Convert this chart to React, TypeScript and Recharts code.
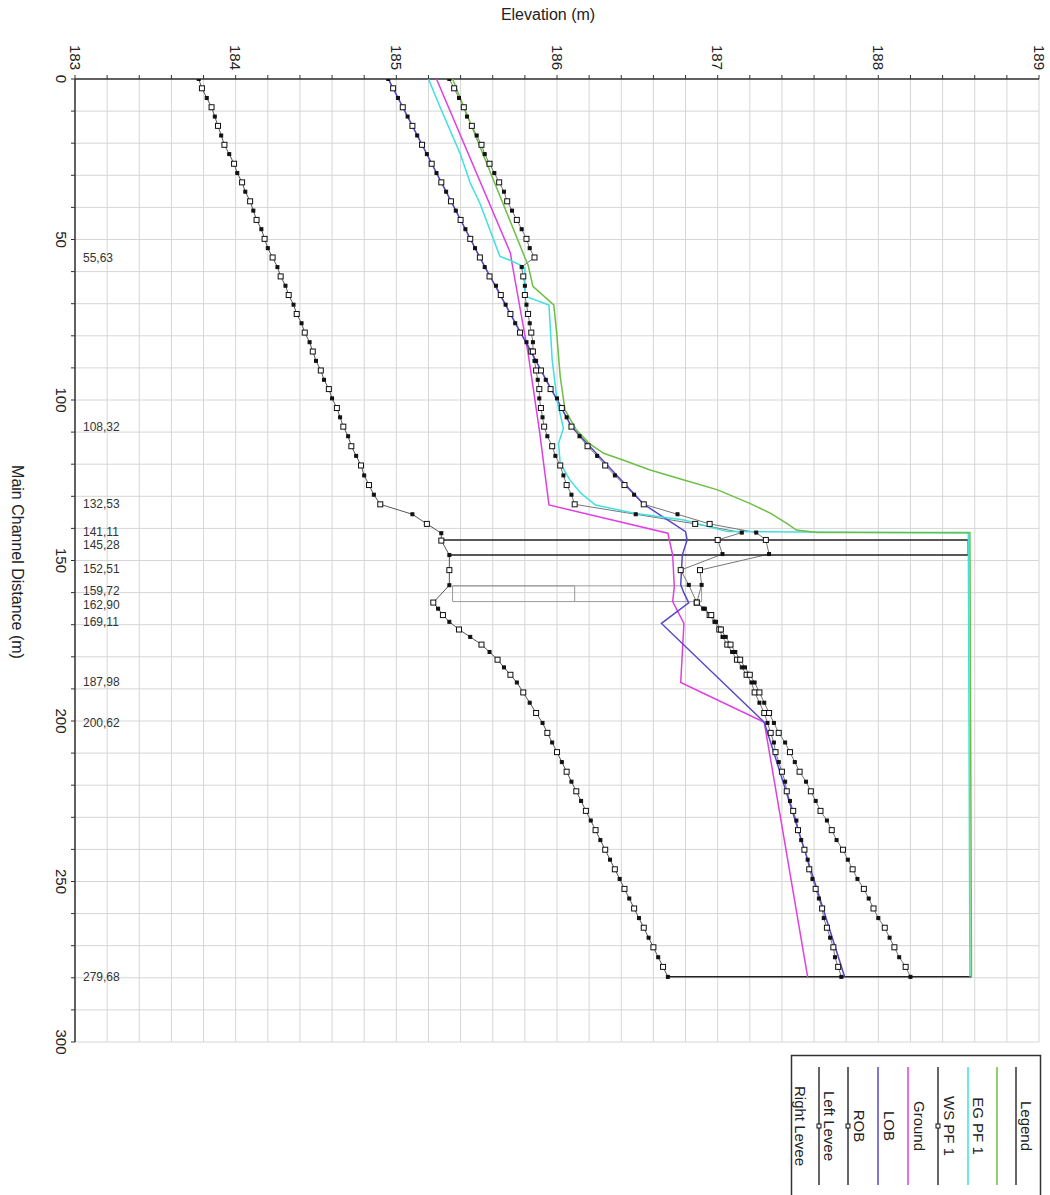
import { CartesianGrid, Scatter, ScatterChart, XAxis, YAxis } from 'recharts';

const FONT = '"Liberation Sans", Arial, sans-serif';

// axis ticks: elevation every 0.2 m, distance every 10 m
const elevTicks = [
  183, 183.2, 183.4, 183.6, 183.8, 184, 184.2, 184.4, 184.6, 184.8, 185, 185.2, 185.4, 185.6, 185.8, 186, 186.2,
  186.4, 186.6, 186.8, 187, 187.2, 187.4, 187.6, 187.8, 188, 188.2, 188.4, 188.6, 188.8, 189,
];
const distTicks = [
  0, 10, 20, 30, 40, 50, 60, 70, 80, 90, 100, 110, 120, 130, 140, 150, 160, 170, 180, 190, 200, 210, 220, 230, 240,
  250, 260, 270, 280, 290, 300,
];

// river stations printed along the distance axis
const stationDist = [55.63, 108.32, 132.53, 141.11, 145.28, 152.51, 159.72, 162.9, 169.11, 187.98, 200.62, 279.68];
const stationText = ['55,63', '108,32', '132,53', '141,11', '145,28', '152,51', '159,72', '162,90', '169,11', '187,98', '200,62', '279,68'];

// interpolated sections (markers) upstream of the bridge and downstream of the culvert
const upperDist = [
  0, 2.9, 5.9, 8.8, 11.7, 14.6, 17.6, 20.5, 23.4, 26.4, 29.3, 32.2, 35.1, 38.1, 41.0, 43.9, 46.8, 49.8, 52.7, 55.6,
  58.6, 61.5, 64.4, 67.3, 70.3, 73.2, 76.1, 79.0, 82.0, 84.9, 87.8, 90.8, 93.7, 96.6, 99.5, 102.5, 105.4, 108.3,
  111.3, 114.4, 117.4, 120.4, 123.5, 126.5, 129.5, 132.5,
];
const lowerDist = [
  165.0, 167.0, 169.1, 171.5, 173.8, 176.2, 178.5, 180.9, 183.3, 185.6, 188.0, 191.1, 194.3, 197.5, 200.6, 203.7,
  206.7, 209.7, 212.8, 215.8, 218.9, 221.9, 224.9, 228.0, 231.0, 234.0, 237.1, 240.1, 243.2, 246.2, 249.2, 252.3,
  255.3, 258.4, 261.4, 264.4, 267.5, 270.5, 273.6, 276.6, 279.7,
];

// Ground
const groundUpper = [
  183.77, 183.79, 183.82, 183.85, 183.87, 183.89, 183.91, 183.93, 183.96, 183.99, 184.01, 184.04, 184.06, 184.09,
  184.11, 184.13, 184.16, 184.18, 184.2, 184.23, 184.26, 184.28, 184.31, 184.33, 184.36, 184.38, 184.41, 184.43,
  184.46, 184.48, 184.5, 184.53, 184.55, 184.58, 184.6, 184.63, 184.65, 184.67, 184.7, 184.72, 184.75, 184.78,
  184.8, 184.83, 184.86, 184.9,
];
const groundMidDist = [135.6, 138.6, 141.5, 143.8, 148.3, 153.0, 157.7, 163.1];
const groundMid = [185.1, 185.19, 185.28, 185.28, 185.33, 185.33, 185.33, 185.23];
const groundLower = [
  185.26, 185.29, 185.33, 185.39, 185.46, 185.53, 185.58, 185.63, 185.67, 185.71, 185.75, 185.79, 185.83, 185.87,
  185.91, 185.94, 185.97, 186.0, 186.03, 186.06, 186.09, 186.12, 186.15, 186.18, 186.21, 186.24, 186.27, 186.3,
  186.33, 186.36, 186.39, 186.42, 186.45, 186.48, 186.51, 186.54, 186.57, 186.6, 186.63, 186.66, 186.69,
];

// Left Levee
const leftUpper = [
  184.95, 184.98, 185.01, 185.04, 185.07, 185.1, 185.13, 185.16, 185.19, 185.22, 185.25, 185.28, 185.31, 185.34,
  185.37, 185.4, 185.43, 185.46, 185.49, 185.52, 185.55, 185.58, 185.62, 185.65, 185.68, 185.71, 185.74, 185.77,
  185.81, 185.84, 185.87, 185.9, 185.93, 185.96, 186.0, 186.03, 186.06, 186.09, 186.14, 186.19, 186.25, 186.3,
  186.36, 186.42, 186.48, 186.54,
];
const leftMidDist = [135.6, 138.6, 141.3, 143.6, 148.0, 153.0, 157.6, 163.1];
const leftMid = [186.75, 186.95, 187.24, 187.3, 187.32, 186.89, 186.9, 186.87];
const leftLower = [
  186.91, 186.95, 186.98, 187.01, 187.03, 187.06, 187.09, 187.12, 187.15, 187.18, 187.21, 187.23, 187.26, 187.29,
  187.31, 187.33, 187.35, 187.36, 187.38, 187.4, 187.42, 187.43, 187.45, 187.47, 187.49, 187.5, 187.52, 187.54,
  187.56, 187.57, 187.59, 187.61, 187.63, 187.65, 187.66, 187.68, 187.7, 187.72, 187.73, 187.75, 187.77,
];

// Right Levee
const rightUpper = [
  185.33, 185.36, 185.39, 185.42, 185.44, 185.47, 185.5, 185.53, 185.55, 185.58, 185.61, 185.64, 185.67, 185.69,
  185.72, 185.75, 185.78, 185.81, 185.83, 185.86, 185.78, 185.79, 185.8, 185.8, 185.81, 185.82, 185.83, 185.84,
  185.85, 185.85, 185.86, 185.87, 185.88, 185.89, 185.89, 185.9, 185.91, 185.92, 185.94, 185.97, 185.99, 186.02,
  186.04, 186.06, 186.09, 186.11,
];
const rightMidDist = [135.6, 138.6, 141.3, 143.6, 148.0, 153.0, 157.6, 163.1];
const rightMid = [186.49, 186.86, 187.15, 187.0, 187.03, 186.77, 186.82, 186.87];
const rightLower = [
  186.92, 186.96, 186.99, 187.02, 187.05, 187.08, 187.11, 187.14, 187.17, 187.2, 187.23, 187.26, 187.29, 187.32,
  187.35, 187.38, 187.42, 187.45, 187.48, 187.51, 187.55, 187.58, 187.61, 187.64, 187.68, 187.71, 187.74, 187.78,
  187.81, 187.84, 187.87, 187.91, 187.94, 187.97, 188.0, 188.04, 188.07, 188.1, 188.13, 188.17, 188.2,
];

// EG PF 1
const egDist = [0, 55.6, 57.9, 64.6, 70.4, 80.2, 92.7, 103.1, 109.3, 113.5, 116.6, 118.7, 121.8, 124.9, 128.0, 132.2, 135.3, 138.4, 140.5, 141.3, 141.3, 279.7];
const egElev = [185.35, 185.8, 185.82, 185.85, 185.98, 186.0, 186.02, 186.05, 186.12, 186.2, 186.29, 186.41, 186.58, 186.79, 187.0, 187.2, 187.33, 187.43, 187.49, 187.62, 188.57, 188.58];

// WS PF 1
const wsDist = [0, 8.5, 23.6, 32.4, 38.7, 55.3, 56.3, 57.9, 58.9, 66.7, 67.8, 70.4, 87.5, 100, 108.8, 113.5, 119.7, 124.9, 129.1, 132.7, 135.3, 137.4, 141.0, 141.4, 279.7];
const wsElev = [185.2, 185.27, 185.4, 185.46, 185.52, 185.645, 185.7, 185.77, 185.8, 185.8, 185.81, 185.95, 185.97, 186.0, 186.04, 186.01, 186.02, 186.08, 186.15, 186.24, 186.48, 186.79, 187.06, 188.56, 188.57];

// LOB
const lobDist = [0, 54.2, 57.4, 85.4, 109.3, 132.7, 141.5, 148.3, 158.2, 162.8, 169.6, 188.0, 200.4, 279.7];
const lobElev = [185.25, 185.71, 185.72, 185.82, 185.89, 185.95, 186.69, 186.72, 186.73, 186.72, 186.79, 186.77, 187.29, 187.56];

// ROB
const robDist = [0, 55.6, 108.3, 132.5, 141.0, 143.6, 148.3, 157.6, 160.1, 163.2, 169.6, 200.4, 279.7];
const robElev = [184.95, 185.52, 186.09, 186.54, 186.8, 186.81, 186.78, 186.77, 186.79, 186.82, 186.65, 187.29, 187.79];

// bridge deck, culvert and last section outline
const deckDist = [143.6, 143.6, 148.3, 148.3];
const deckElev = [185.28, 188.56, 188.56, 185.33];
const culvertDist = [157.9, 157.9, 162.8, 162.8, 157.9, 157.9, 162.8];
const culvertElev = [185.35, 186.9, 186.9, 185.35, 185.35, 186.11, 186.11];
const endDist = [279.7, 279.7];
const endElev = [186.69, 188.58];

type Pt = { e: number; d: number; i: number };

const toPts = (dist: number[], elev: number[]): Pt[] => dist.map((d, i) => ({ d, e: elev[i], i }));

const groundPts = toPts([...upperDist, ...groundMidDist, ...lowerDist], [...groundUpper, ...groundMid, ...groundLower]);
const leftPts = toPts([...upperDist, ...leftMidDist, ...lowerDist], [...leftUpper, ...leftMid, ...leftLower]);
const rightPts = toPts([...upperDist, ...rightMidDist, ...lowerDist], [...rightUpper, ...rightMid, ...rightLower]);
const stationPts = stationDist.map((d, i) => ({ d, e: 183, t: stationText[i] }));

const LEGEND = [
  { name: 'EG PF 1', color: '#6cbf45', marker: false },
  { name: 'WS PF 1', color: '#3fe0e0', marker: false },
  { name: 'Ground', color: '#333', marker: true },
  { name: 'LOB', color: '#e040e0', marker: false },
  { name: 'ROB', color: '#5548c8', marker: false },
  { name: 'Left Levee', color: '#333', marker: true },
  { name: 'Right Levee', color: '#333', marker: true },
];

const noDot = () => <g />;

const squareDot = (p: any) => {
  const filled = p.payload.i % 2 === 0;
  const s = filled ? 3 : 5;
  return (
    <rect
      x={p.cx - s / 2}
      y={p.cy - s / 2}
      width={s}
      height={s}
      fill={filled ? '#111' : '#fff'}
      stroke="#111"
      strokeWidth={1}
    />
  );
};

// the two closest station labels are pushed apart a little, as in the source plot
const stationLabel = (p: any) => {
  const nudge = p.payload.t === '162,90' ? 3 : p.payload.t === '159,72' ? -1 : 0;
  return (
    <text x={p.cx + 8} y={p.cy + nudge} dominantBaseline="central" fontSize={12} fill="#333" fontFamily={FONT}>
      {p.payload.t}
    </text>
  );
};

const ElevTick = (p: any) => {
  const v = p.payload.value;
  if (Math.abs(v - Math.round(v)) > 0.001) return <g />;
  return (
    <text
      x={p.x}
      y={p.y}
      transform={`rotate(90 ${p.x} ${p.y})`}
      textAnchor="end"
      dominantBaseline="central"
      fontSize={15}
      fill="#222"
      fontFamily={FONT}
    >
      {Math.round(v)}
    </text>
  );
};

const DistTick = (p: any) => {
  const v = p.payload.value;
  if (v % 50 !== 0) return <g />;
  return (
    <text
      x={p.x}
      y={p.y}
      transform={`rotate(90 ${p.x} ${p.y})`}
      textAnchor="middle"
      dominantBaseline="central"
      fontSize={15}
      fill="#222"
      fontFamily={FONT}
    >
      {v}
    </text>
  );
};

function LegendBox() {
  const lineX = [206, 177, 147, 117, 87, 57, 28];
  return (
    <g transform="translate(791 1055)">
      <rect x={0.5} y={0.5} width={249} height={150} fill="#fff" stroke="#333" strokeWidth={1.5} />
      <line x1={225} y1={12} x2={225} y2={130} stroke="#333" strokeWidth={1.5} />
      <text x={235} y={71} transform="rotate(90 235 71)" textAnchor="middle" dominantBaseline="central" fontSize={15} fill="#222" fontFamily={FONT}>
        Legend
      </text>
      {LEGEND.map((item, idx) => {
        const x = lineX[idx];
        return (
          <g key={item.name}>
            <line x1={x} y1={12} x2={x} y2={130} stroke={item.color} strokeWidth={1.5} />
            {item.marker && <rect x={x - 2} y={69} width={4} height={4} fill="#fff" stroke="#111" />}
            <text
              x={x - 19}
              y={71}
              transform={`rotate(90 ${x - 19} 71)`}
              textAnchor="middle"
              dominantBaseline="central"
              fontSize={15}
              fill="#222"
              fontFamily={FONT}
            >
              {item.name}
            </text>
          </g>
        );
      })}
    </g>
  );
}

export default function App() {
  return (
    <div style={{ position: 'absolute', left: 0, top: 0, width: 1050, height: 1195, background: '#fff' }}>
      <ScatterChart width={1050} height={1195} margin={{ top: 39, right: 11, bottom: 153, left: 30 }}>
        <CartesianGrid stroke="#d6d6d6" strokeWidth={1} />
        <XAxis
          type="number"
          dataKey="e"
          orientation="top"
          domain={[183, 189]}
          ticks={elevTicks}
          interval={0}
          allowDataOverflow
          height={40}
          tickSize={4}
          tickMargin={5}
          tick={ElevTick}
          axisLine={{ stroke: '#333', strokeWidth: 1.5 }}
          tickLine={{ stroke: '#333' }}
        />
        <YAxis
          type="number"
          dataKey="d"
          domain={[0, 300]}
          reversed
          ticks={distTicks}
          interval={0}
          allowDataOverflow
          width={45}
          tickSize={4}
          tickMargin={10}
          tick={DistTick}
          axisLine={{ stroke: '#333', strokeWidth: 1.5 }}
          tickLine={{ stroke: '#333' }}
        />

        <Scatter name="Ground" data={groundPts} line={{ stroke: '#555', strokeWidth: 1 }} shape={noDot} legendType="none" isAnimationActive={false} />
        <Scatter name="Left Levee" data={leftPts} line={{ stroke: '#777', strokeWidth: 1 }} shape={noDot} legendType="none" isAnimationActive={false} />
        <Scatter name="Right Levee" data={rightPts} line={{ stroke: '#777', strokeWidth: 1 }} shape={noDot} legendType="none" isAnimationActive={false} />
        <Scatter name="deck" data={toPts(deckDist, deckElev)} line={{ stroke: '#222', strokeWidth: 1.5 }} shape={noDot} legendType="none" isAnimationActive={false} />
        <Scatter name="culvert" data={toPts(culvertDist, culvertElev)} line={{ stroke: '#999', strokeWidth: 1 }} shape={noDot} legendType="none" isAnimationActive={false} />
        <Scatter name="end" data={toPts(endDist, endElev)} line={{ stroke: '#222', strokeWidth: 1.5 }} shape={noDot} legendType="none" isAnimationActive={false} />

        <Scatter name="LOB" data={toPts(lobDist, lobElev)} line={{ stroke: '#e040e0', strokeWidth: 1.5 }} shape={noDot} legendType="none" isAnimationActive={false} />
        <Scatter name="ROB" data={toPts(robDist, robElev)} line={{ stroke: '#5548c8', strokeWidth: 1.5 }} shape={noDot} legendType="none" isAnimationActive={false} />
        <Scatter name="WS PF 1" data={toPts(wsDist, wsElev)} line={{ stroke: '#3fe0e0', strokeWidth: 1.5 }} shape={noDot} legendType="none" isAnimationActive={false} />
        <Scatter name="EG PF 1" data={toPts(egDist, egElev)} line={{ stroke: '#6cbf45', strokeWidth: 1.5 }} shape={noDot} legendType="none" isAnimationActive={false} />

        <Scatter name="Ground markers" data={groundPts} shape={squareDot} legendType="none" isAnimationActive={false} />
        <Scatter name="Left Levee markers" data={leftPts} shape={squareDot} legendType="none" isAnimationActive={false} />
        <Scatter name="Right Levee markers" data={rightPts} shape={squareDot} legendType="none" isAnimationActive={false} />
        <Scatter name="stations" data={stationPts} shape={stationLabel} legendType="none" isAnimationActive={false} />
      </ScatterChart>
      <svg width={1050} height={1195} style={{ position: 'absolute', left: 0, top: 0, pointerEvents: 'none' }}>
        <text x={548} y={20} textAnchor="middle" fontSize={16} fill="#222" fontFamily={FONT}>
          Elevation (m)
        </text>
        <text x={17} y={562} transform="rotate(90 17 562)" textAnchor="middle" dominantBaseline="central" fontSize={16} fill="#222" fontFamily={FONT}>
          Main Channel Distance (m)
        </text>
        <LegendBox />
      </svg>
    </div>
  );
}
